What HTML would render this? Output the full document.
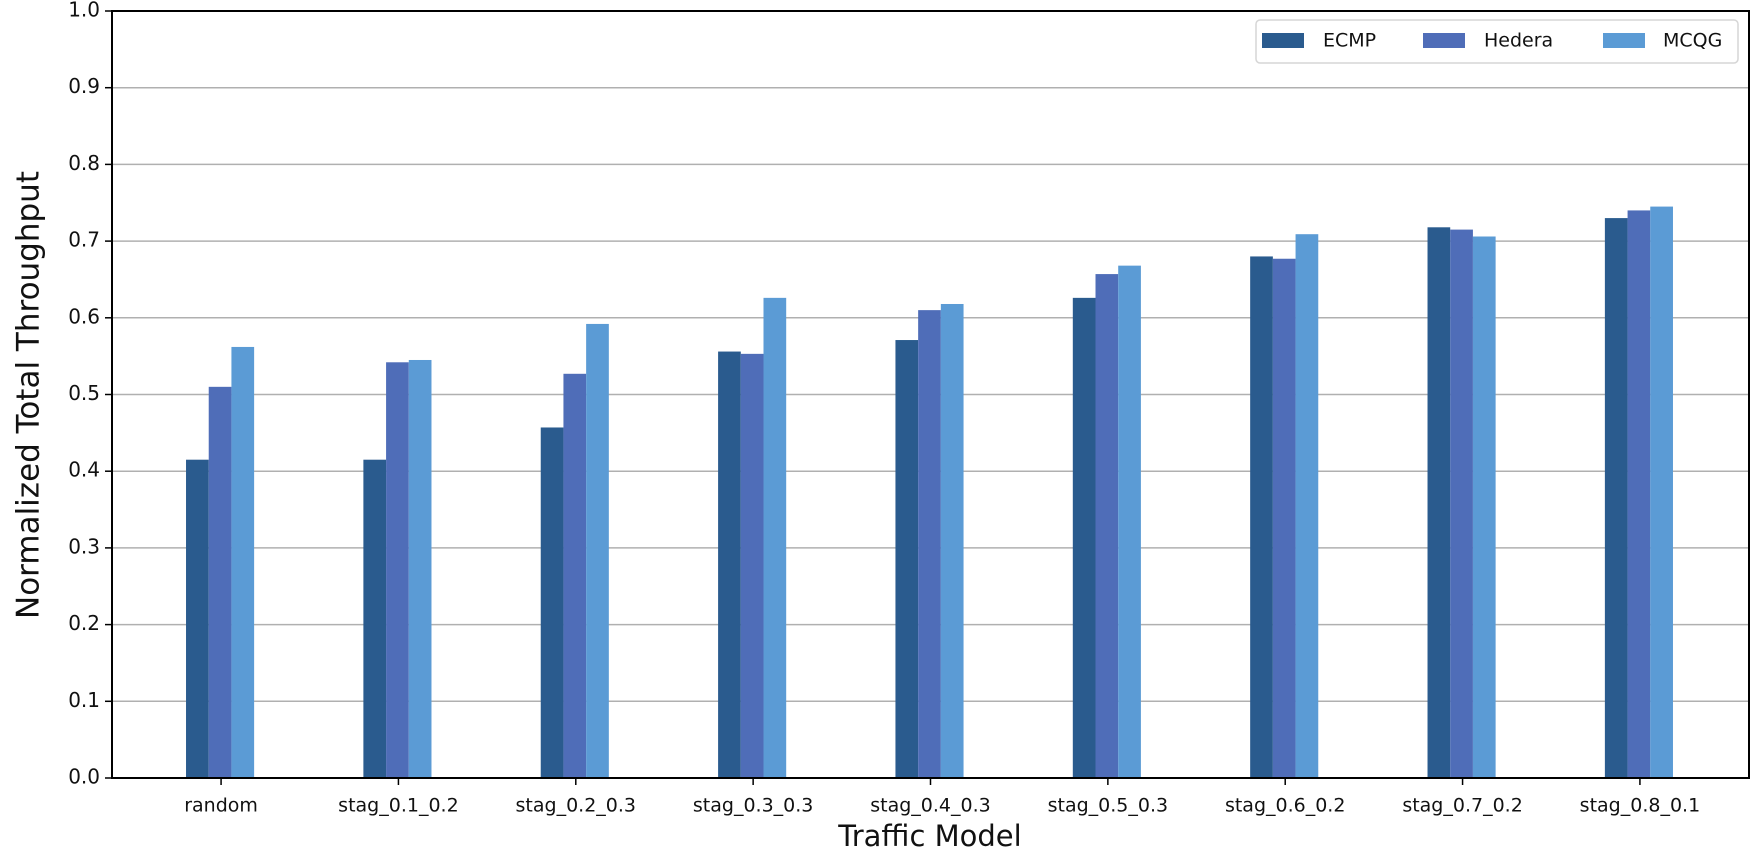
<!DOCTYPE html>
<html><head><meta charset="utf-8"><style>
body{margin:0;background:#fff;}
svg{display:block;font-family:"DejaVu Sans","Liberation Sans",sans-serif;}
</style></head><body>
<svg id="chart" width="1755" height="862">
<g id="grid"></g>
<g id="bars"></g>
<g id="axes"></g>
<text x="30" y="395" transform="rotate(-90 30 395)" text-anchor="middle" dominant-baseline="middle" font-size="31" fill="#111">Normalized Total Throughput</text>
<text x="930" y="838" text-anchor="middle" dominant-baseline="middle" font-size="29" fill="#111">Traffic Model</text>
<g>
<rect x="1256" y="20" width="482" height="43" rx="4" fill="#fff" stroke="#d6d6d6" stroke-width="1.5"/>
<rect x="1262" y="33" width="42" height="15" fill="#2a5b8e"/>
<text x="1323" y="41" dominant-baseline="middle" font-size="19" fill="#111">ECMP</text>
<rect x="1423" y="33" width="42" height="15" fill="#4f6db8"/>
<text x="1484" y="41" dominant-baseline="middle" font-size="19" fill="#111">Hedera</text>
<rect x="1603" y="33" width="42" height="15" fill="#5b9bd5"/>
<text x="1663" y="41" dominant-baseline="middle" font-size="19" fill="#111">MCQG</text>
</g>
</svg>
<script>
const categories=["random","stag_0.1_0.2","stag_0.2_0.3","stag_0.3_0.3","stag_0.4_0.3","stag_0.5_0.3","stag_0.6_0.2","stag_0.7_0.2","stag_0.8_0.1"];
const ecmp=[0.415,0.415,0.457,0.556,0.571,0.626,0.680,0.718,0.730];
const hedera=[0.510,0.542,0.527,0.553,0.610,0.657,0.677,0.715,0.740];
const mcqg=[0.562,0.545,0.592,0.626,0.618,0.668,0.709,0.706,0.745];
const yTicks=[0.0,0.1,0.2,0.3,0.4,0.5,0.6,0.7,0.8,0.9,1.0];
const seriesNames=["ecmp","hedera","mcqg"];
const NS="http://www.w3.org/2000/svg";
const L=112,R=1749,T=11,B=778;
const y=v=>B-(v-0)/(1.0-0)*(B-T);
const pad=0.615;
const step=(R-L)/(categories.length-1+2*pad);
const x=i=>L+step*(i+pad);
const bw=22.7;
const colors=["#2a5b8e","#4f6db8","#5b9bd5"];
function mk(tag,attrs,parent){const e=document.createElementNS(NS,tag);for(const k in attrs)e.setAttribute(k,attrs[k]);parent.appendChild(e);return e;}
const grid=document.getElementById('grid'),bars=document.getElementById('bars'),axes=document.getElementById('axes');
yTicks.forEach(v=>{
 if(v>0&&v<1){const g=mk('line',{x1:L,x2:R,y1:y(v),y2:y(v),stroke:'#b0b0b0','stroke-width':1.5},grid);
 
 }
 const t=mk('line',{x1:L-7,x2:L,y1:y(v),y2:y(v),stroke:'#000','stroke-width':1.5},axes);
 
 
 const lb=mk('text',{x:L-12,y:y(v),'text-anchor':'end','dominant-baseline':'middle','font-size':20,fill:'#111'},axes);
 lb.textContent=v.toFixed(1);
 
 
});
[ecmp,hedera,mcqg].forEach((s,si)=>{
 s.forEach((v,i)=>{
  const r=mk('rect',{x:x(i)+(si-1.5)*bw-1,width:bw,y:y(v),height:B-y(v),fill:colors[si]},bars);
  
  
 });
});
categories.forEach((c,i)=>{
 const t=mk('line',{x1:x(i),x2:x(i),y1:B,y2:B+7,stroke:'#000','stroke-width':1.5},axes);
 
 
 const lb=mk('text',{x:x(i),y:B+28,'text-anchor':'middle','dominant-baseline':'middle','font-size':19,fill:'#111'},axes);
 lb.textContent=c;
 
 
});
const frame=mk('rect',{x:L,y:T,width:R-L,height:B-T,fill:'none',stroke:'#000','stroke-width':2},axes);


</script>
</body></html>
